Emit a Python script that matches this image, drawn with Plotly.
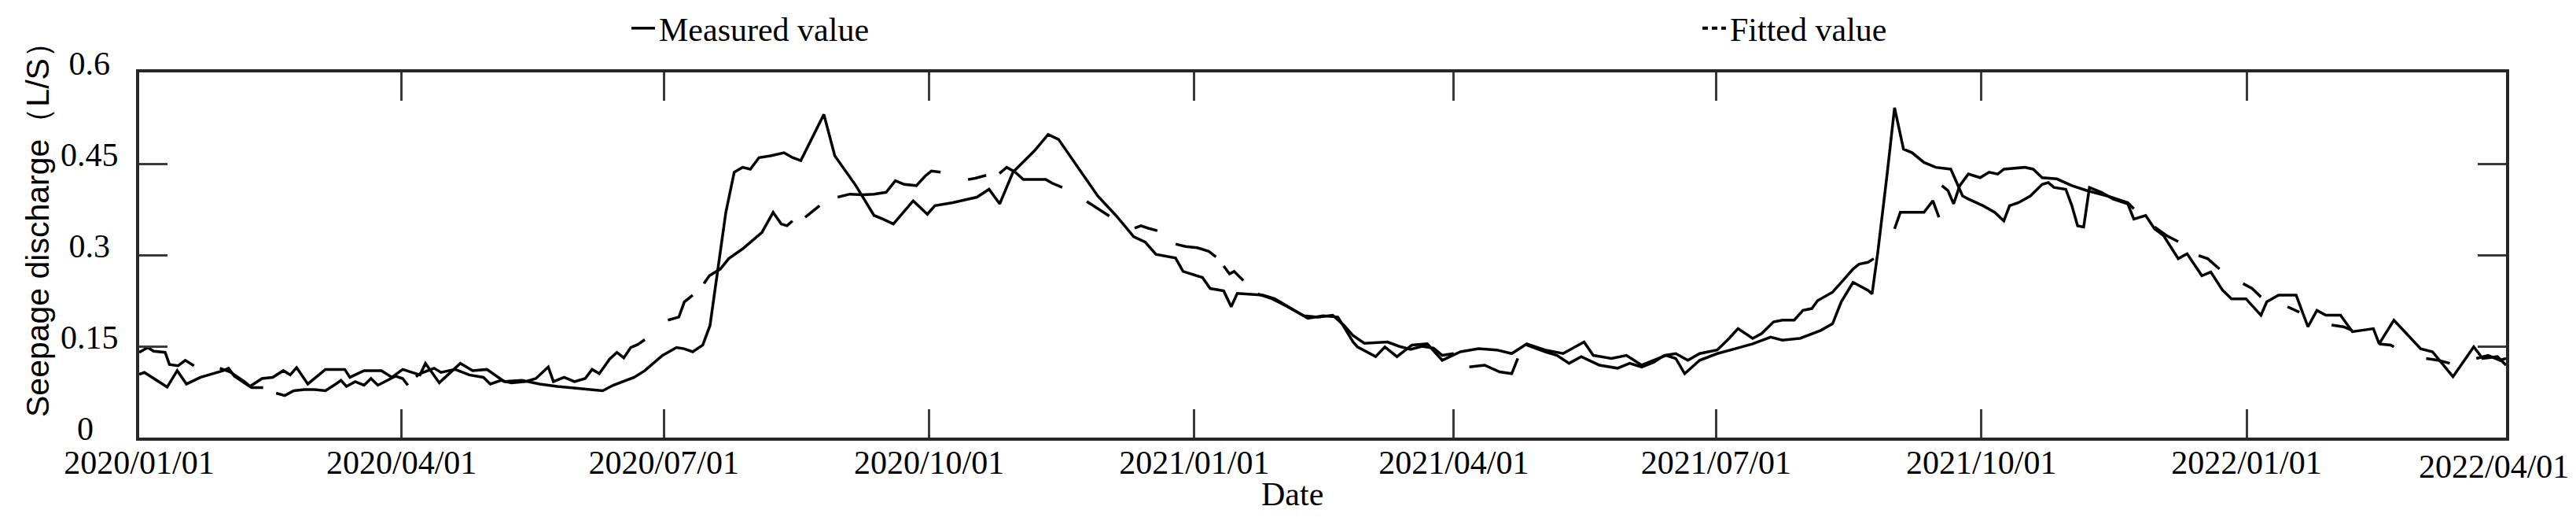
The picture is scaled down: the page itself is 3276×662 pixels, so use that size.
import plotly.graph_objects as go
import pandas as pd

# ---- data (days since 2020-01-01, seepage discharge in L/S) ----
measured_days = [0, 1.8, 9.7, 13.2, 16.4, 21.3, 29.2, 31, 33, 38.4, 42.6, 46.3, 50, 52.4, 54.6, 58.5,
                 64.6, 71.3, 73.1, 78, 84, 87.7, 91.4, 97.4, 99.3, 104.1, 111.4, 115.7, 120.6, 126.7,
                 132.8, 138.9, 145, 153.5, 160.8, 164.4, 171.7, 175.4, 181.5, 186.4, 189, 192, 195.5,
                 198, 200.7, 203.5, 206.4, 209.3, 212, 215, 219, 223.7, 226.6, 229.5, 237.5, 241.3,
                 248.6, 254.9, 258, 261.6, 268.5, 273.4, 276, 282.2, 290.6, 294.8, 298.5, 303.1, 310.5,
                 315.3, 318.9, 326.2, 332.5, 338.8, 345, 349, 352.7, 359.5, 362.1, 368.8, 371.5, 376.2,
                 378.8, 380.9, 389.8, 393.9, 399.1, 405.4, 410.6, 415.8, 418.4, 421.1, 422.6, 428.9,
                 432.1, 436.3, 441.5, 446.8, 452, 458.3, 464.6, 470.9, 476.1, 481.3, 487.6, 493.9,
                 501.2, 504.4, 510.7, 515.9, 521.2, 529.6, 533, 536.1, 541.3, 547.4, 553.6, 559.7,
                 565.9, 570, 576.1, 580.2, 583.3, 587.4, 590.4, 594.5, 599.7, 601.1, 603.1, 606.4,
                 608.9, 612, 615, 619.1, 623.2, 628.4, 632.5, 634.5, 639.6, 643.7, 646.8, 648.8, 651.9,
                 656, 660.1, 662.2, 664.2, 668.3, 670.4, 672.4, 674.5, 676.5, 680.6, 684.7, 689.8,
                 691.9, 696, 699.1, 702.2, 707.3, 710.4, 715.5, 718.6, 722.7, 725.8, 730.8, 736, 738,
                 742.1, 748.2, 752.3, 755.4, 758.5, 763.6, 767.7, 775, 777, 782.1, 791.4, 795.5, 802.6,
                 809.8, 812.9, 818, 821]
measured_vals = [0.104, 0.107, 0.083, 0.110, 0.088, 0.099, 0.110, 0.114, 0.101, 0.084, 0.097, 0.099,
                 0.110, 0.103, 0.115, 0.088, 0.112, 0.112, 0.099, 0.110, 0.110, 0.099, 0.112, 0.103,
                 0.122, 0.090, 0.122, 0.110, 0.112, 0.092, 0.094, 0.088, 0.084, 0.080, 0.077, 0.086,
                 0.099, 0.110, 0.135, 0.148, 0.146, 0.141, 0.152, 0.184, 0.272, 0.370, 0.436, 0.444,
                 0.441, 0.460, 0.463, 0.468, 0.460, 0.455, 0.531, 0.463, 0.414, 0.365, 0.359, 0.351,
                 0.389, 0.367, 0.381, 0.386, 0.395, 0.408, 0.384, 0.436, 0.471, 0.498, 0.490, 0.441,
                 0.397, 0.365, 0.330, 0.321, 0.301, 0.295, 0.273, 0.263, 0.245, 0.241, 0.215, 0.237,
                 0.234, 0.228, 0.213, 0.196, 0.200, 0.198, 0.178, 0.157, 0.149, 0.133, 0.149, 0.133,
                 0.152, 0.154, 0.127, 0.141, 0.146, 0.144, 0.138, 0.154, 0.144, 0.138, 0.157, 0.135,
                 0.130, 0.135, 0.119, 0.135, 0.130, 0.105, 0.127, 0.138, 0.146, 0.154, 0.165, 0.160,
                 0.163, 0.171, 0.176, 0.187, 0.223, 0.255, 0.242, 0.236, 0.305, 0.436, 0.542, 0.474,
                 0.468, 0.452, 0.444, 0.441, 0.397, 0.392, 0.381, 0.370, 0.356, 0.381, 0.386, 0.397,
                 0.416, 0.419, 0.411, 0.408, 0.381, 0.348, 0.346, 0.411, 0.403, 0.392, 0.384, 0.359,
                 0.365, 0.343, 0.332, 0.294, 0.302, 0.266, 0.272, 0.242, 0.228, 0.228, 0.201, 0.223,
                 0.234, 0.234, 0.182, 0.209, 0.201, 0.201, 0.174, 0.179, 0.154, 0.193, 0.146, 0.141,
                 0.100, 0.149, 0.130, 0.133, 0.119]

# fitted series: None marks the breaks between the drawn pieces
fitted_days = [0, 3, 5, 9, 10.5, 13.5, 16, 19, None,
               28, 31.5, 36.5, 39, 43, None,
               47.5, 50.5, 53.6, 57.2, 60.9, 64.6, 68.2, 70, 71.9, 74.9, 78, 80.4, 82.8, 85.3, 88.9,
               91.4, 93.2, None,
               96, 97.4, 102.3, 104.7, 109.6, 114.5, 119.4, 121.8, 125.5, 129.1, 134, 137.6, 141.9,
               143.7, 147.4, 151, 154.7, 157.1, 159.6, 163.2, 165.7, 168.1, 170.5, 173, 175.4, None,
               183.4, 187.2, 189.1, 192, None,
               195.9, 197.8, 201.6, 204.5, 209.3, 213.1, 216, 219.9, 222.7, 224.7, 226.6, None,
               231, 233.5, 236, None,
               242.3, 246.5, 251, 254.9, 259.1, 262.3, 265.4, 269.6, 272.7, 274.8, 278, None,
               287.5, 290, 293.8, None,
               298.4, 300.9, 303.6, 306.7, 311, 314.5, 316.7, 320.2, None,
               328.7, 332.5, 336.5, None,
               345.3, 347.5, 350, 353.2, None,
               359.5, 363, 367, 371, 373.5, None,
               376.2, 378.2, 379.8, 383, None,
               388, 393, 398, 404, 409, 414, 418, 421, 425, 429, 433, 437, 441, 445, 449, 452, 456, None,
               461.4, 466.7, 471.9, 476.1, 478.2, None,
               481.3, 487.6, 491.8, 496, 500.2, 506.5, 512.8, 517, 521.2, 525.4, 529, 533, 537.2,
               541.3, 547.4, 551.5, 554.6, 559.7, 562.8, 566.9, 570, 574.1, 577.1, 580.2, 582.2,
               587.4, 590.4, 594.5, 596.6, 599.7, 601.7, None,
               608.9, 610.9, 615, 619.1, 622.2, 624.3, None,
               625.3, 627.4, 629.4, 631.5, 634.5, 638.6, 641.7, 644.7, 646.8, 654, 657, 660.1, 665.2,
               670.4, 675.5, 682.7, 689.8, 691.9, None,
               699.1, 703.2, 707.3, None,
               714.4, 717.5, 721.6, None,
               729.8, 732.9, 736, None,
               745.2, 748.2, 749.3, None,
               760.5, 764.6, 767.7, None,
               777, 781, 782.1, None,
               793.3, 797.4, 801.5, None,
               810.7, 814.8, 818.9, 821]
fitted_vals = [0.140, 0.148, 0.142, 0.140, 0.120, 0.118, 0.127, 0.118, None,
               0.114, 0.108, 0.092, 0.082, 0.082, None,
               0.073, 0.069, 0.077, 0.079, 0.079, 0.077, 0.088, 0.094, 0.084, 0.092, 0.086, 0.097,
               0.086, 0.092, 0.101, 0.097, 0.086, None,
               0.100, 0.105, 0.114, 0.107, 0.112, 0.103, 0.099, 0.088, 0.094, 0.090, 0.092, 0.097,
               0.116, 0.092, 0.099, 0.092, 0.097, 0.112, 0.105, 0.129, 0.140, 0.131, 0.148, 0.153,
               0.161, None,
               0.193, 0.198, 0.223, 0.234, None,
               0.253, 0.266, 0.277, 0.294, 0.310, 0.326, 0.337, 0.370, 0.351, 0.348, 0.356, None,
               0.362, 0.372, 0.381, None,
               0.395, 0.400, 0.399, 0.400, 0.403, 0.422, 0.416, 0.414, 0.430, 0.438, 0.436, None,
               0.424, 0.426, 0.431, None,
               0.434, 0.444, 0.437, 0.424, 0.424, 0.424, 0.418, 0.411, None,
               0.388, 0.376, 0.364, None,
               0.344, 0.348, 0.344, 0.340, None,
               0.318, 0.314, 0.312, 0.306, 0.297, None,
               0.282, 0.269, 0.273, 0.258, None,
               0.236, 0.228, 0.216, 0.200, 0.198, 0.201, 0.184, 0.168, 0.155, 0.156, 0.157, 0.150,
               0.145, 0.150, 0.147, 0.135, 0.138, None,
               0.116, 0.119, 0.108, 0.105, 0.130, None,
               0.152, 0.141, 0.135, 0.122, 0.133, 0.119, 0.114, 0.122, 0.116, 0.124, 0.135, 0.138,
               0.127, 0.138, 0.144, 0.163, 0.179, 0.163, 0.171, 0.190, 0.193, 0.193, 0.209, 0.212,
               0.225, 0.239, 0.255, 0.277, 0.285, 0.288, 0.294, None,
               0.343, 0.370, 0.370, 0.370, 0.389, 0.362, None,
               0.414, 0.406, 0.384, 0.414, 0.433, 0.427, 0.436, 0.433, 0.441, 0.444, 0.441, 0.427,
               0.425, 0.414, 0.406, 0.397, 0.386, 0.376, None,
               0.346, 0.332, 0.322, None,
               0.299, 0.294, 0.277, None,
               0.253, 0.245, 0.231, None,
               0.215, 0.209, 0.206, None,
               0.185, 0.182, 0.176, None,
               0.154, 0.152, 0.149, None,
               0.130, 0.127, 0.122, None,
               0.130, 0.135, 0.127, 0.130]

x_tick_dates = ["2020-01-01", "2020-04-01", "2020-07-01", "2020-10-01", "2021-01-01",
                "2021-04-01", "2021-07-01", "2021-10-01", "2022-01-01", "2022-04-01"]
x_tick_text = ["2020/01/01", "2020/04/01", "2020/07/01", "2020/10/01", "2021/01/01",
               "2021/04/01", "2021/07/01", "2021/10/01", "2022/01/01", "2022/04/01"]
y_tick_vals = [0, 0.15, 0.3, 0.45, 0.6]
y_tick_text = ["0", "0.15", "0.3", "0.45", "0.6"]
# the reference centres its y labels in a column, so pad the short ones on the right
y_tick_pad = [3, 0, 1, 0, 1]

BASE = pd.Timestamp("2020-01-01")


def to_dates(days):
    return [None if d is None else (BASE + pd.Timedelta(days=d)).strftime("%Y-%m-%d %H:%M")
            for d in days]


SERIF = "Liberation Serif"
W, H = 3276, 662
L, R, T, B = 169, 97, 84, 114
PW, PH = W - L - R, H - T - B

fig = go.Figure()
fig.add_trace(go.Scatter(x=to_dates(measured_days), y=measured_vals, mode="lines",
                         name="Measured value", legend="legend",
                         line=dict(color="#000000", width=3.5)))
fig.add_trace(go.Scatter(x=to_dates(fitted_days), y=fitted_vals, mode="lines",
                         name="Fitted value", showlegend=False, connectgaps=False,
                         line=dict(color="#000000", width=3.5)))
# legend entry for the fitted series (dashed sample)
fig.add_trace(go.Scatter(x=[None], y=[None], mode="lines", name="Fitted value", legend="legend2",
                         line=dict(color="#000000", width=4, dash="7px,5px")))

tick_font = dict(family=SERIF, size=42, color="#000000")
axis_common = dict(showline=True, linewidth=4, linecolor="#262626", mirror="ticks",
                   ticks="inside", ticklen=36, tickwidth=3, tickcolor="#3a3a3a",
                   showgrid=False, zeroline=False)

# the last date label sits at the page edge; it is drawn as a label nudged inward
fig.update_xaxes(type="date", range=["2020-01-01", "2022-04-01"],
                 tickmode="array", tickvals=x_tick_dates,
                 ticktext=x_tick_text[:-1] + [""],
                 tickfont=tick_font, ticklabelstandoff=-8, **axis_common)
fig.update_yaxes(range=[0, 0.6], tickmode="array", tickvals=y_tick_vals,
                 ticktext=[t + "\u00a0" * p for t, p in zip(y_tick_text, y_tick_pad)],
                 tickfont=tick_font, ticklabelstandoff=14, ticklabelshift=-12,
                 **axis_common)

fig.add_annotation(text=x_tick_text[-1], xref="paper", yref="paper",
                   x=(3163 - L) / PW, y=-(585 - (H - B)) / PH,
                   showarrow=False, xanchor="center", yanchor="middle",
                   font=tick_font)

# axis titles
fig.add_annotation(text="Date", xref="paper", yref="paper",
                   x=(1635 - L) / PW, y=-(620 - (H - B)) / PH,
                   showarrow=False, xanchor="center", yanchor="middle",
                   font=dict(family=SERIF, size=42, color="#000000"))
fig.add_annotation(text="Seepage discharge（L/S）", xref="paper", yref="paper",
                   x=(40 - L) / PW, y=1 - (274 - T) / PH, textangle=-90,
                   showarrow=False, xanchor="center", yanchor="middle",
                   font=dict(family="Liberation Sans", size=41, color="#000000"))

legend_y = 1 + (T - 28) / PH
legend_font = dict(family=SERIF, size=42, color="#000000")
fig.update_layout(
    width=W, height=H,
    margin=dict(l=L, r=R, t=T, b=B, autoexpand=False),
    paper_bgcolor="white", plot_bgcolor="white",
    showlegend=True,
    legend=dict(x=(790 - L) / PW, xanchor="left", y=legend_y, yanchor="middle",
                font=legend_font, bgcolor="rgba(0,0,0,0)", borderwidth=0),
    legend2=dict(x=(2152 - L) / PW, xanchor="left", y=legend_y, yanchor="middle",
                 font=legend_font, bgcolor="rgba(0,0,0,0)", borderwidth=0),
)

fig.write_html("out.html")
